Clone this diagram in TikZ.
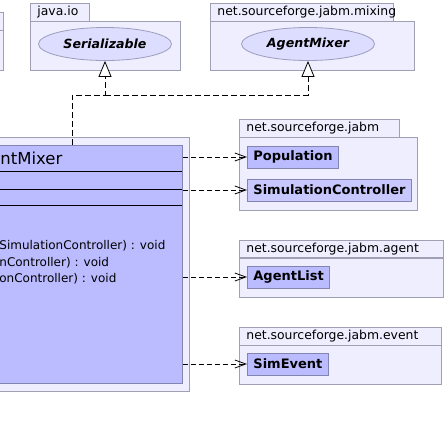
\documentclass[tikz,border=0pt]{standalone}
\usepackage{fontspec}
\setmainfont{DejaVu Sans}
\usetikzlibrary{arrows.meta,shapes.geometric}
\definecolor{pkgfill}{HTML}{EEEEFF}
\definecolor{pkgline}{HTML}{A0A0B4}
\definecolor{clsfill}{HTML}{BBBBFF}
\definecolor{clsline}{HTML}{8484B0}
\definecolor{ifcfill}{HTML}{DDDDFF}
\definecolor{ifcline}{HTML}{9C9CBC}
\definecolor{litefill}{HTML}{C8C8FF}
\begin{document}
\begin{tikzpicture}
	[x=1pt, y=-1pt, line width=0.8pt,
	tab/.style={draw=pkgline,fill=pkgfill,anchor=north west,inner xsep=7pt,inner ysep=0pt,minimum height=17.5pt,align=left,font=\fontsize{12.4}{14}\selectfont},
	body/.style={draw=pkgline,fill=pkgfill,anchor=north west,inner sep=0pt},
	iface/.style={ellipse,draw=ifcline,fill=ifcfill,inner sep=0pt,minimum width=133pt,minimum height=33pt,font=\fontsize{12.6}{15}\selectfont\bfseries\itshape},
	cls/.style={draw=clsline,fill=clsfill,anchor=west,inner xsep=6pt,inner ysep=0pt,minimum height=22pt,font=\fontsize{13}{15}\selectfont\bfseries},
	txt/.style={anchor=west,inner sep=0pt,font=\fontsize{12}{14}\selectfont},
	uses/.style={dash pattern=on 5pt off 3pt,-{Straight Barb[length=11pt,width=8pt]}},
	realizes/.style={dash pattern=on 6pt off 3pt,-{Triangle[open,fill=white,length=16pt,width=13pt]}}]
	\useasboundingbox (0, 0) rectangle (446, 429);
	\clip (0, 0) rectangle (446, 429);
	% packages along the top
	\node (lefttab) at (-30, 12) [tab, minimum width=33pt] {};
	\node (left) at (lefttab.south west) [body, minimum width=33pt, minimum height=40pt] {};
	\node (iotab) at (30, 3) [tab, text width=45pt] {java.io};
	\node (io) at (iotab.south west) [body, minimum width=150pt, minimum height=48.5pt] {};
	\node (mixingtab) at (210, 3) [tab, text width=169pt] {net.sourceforge.jabm.mixing};
	\node (mixing) at (mixingtab.south west) [body, minimum width=204pt, minimum height=48.5pt] {};
	\node (serial) at (105, 44) [iface] {Serializable};
	\node (mixif) at (308, 44) [iface] {AgentMixer};
	% packages on the right
	\node (jabmtab) at (239, 119) [tab, text width=146pt] {net.sourceforge.jabm};
	\node (jabm) at (jabmtab.south west) [body, minimum width=178pt, minimum height=73pt] {};
	\node (agenttab) at (239, 239.5) [tab, text width=190pt] {net.sourceforge.jabm.agent};
	\node (agent) at (agenttab.south west) [body, minimum width=204pt, minimum height=39pt] {};
	\node (eventtab) at (239, 327) [tab, text width=188pt] {net.sourceforge.jabm.event};
	\node (event) at (eventtab.south west) [body, minimum width=202pt, minimum height=39pt] {};
	\node (pop) at (247, 157) [cls] {Population};
	\node (simctl) at (247, 190) [cls, fill=litefill] {SimulationController};
	\node (agentlist) at (247, 277) [cls] {AgentList};
	\node (simevent) at (247, 364) [cls] {SimEvent};
	% the class itself
	\node (mixerpkg) at (-20, 137) [body, minimum width=209pt, minimum height=254pt] {};
	\node (mixer) at (-20, 145) [body, draw=clsline, fill=clsfill, minimum width=202pt, minimum height=238pt] {};
	\draw (-20, 171) -- (182, 171);
	\draw (-20, 189) -- (182, 189);
	\draw (-20, 205) -- (182, 205);
	\node (title) at (0, 158) [txt, font=\fontsize{16.5}{19}\selectfont] {ntMixer};
	\node (op1) at (-1, 246) [txt] {SimulationController) : void};
	\node (op2) at (-1, 263) [txt] {nController) : void};
	\node (op3) at (-1, 279) [txt] {onController) : void};
	% connectors
	\coordinate (split) at (72, 95);
	\coordinate (join) at (105, 95);
	\draw [realizes] (mixer.north -| split) -- (split) -| (serial.south);
	\draw [realizes] (join) -| (mixif.south);
	\draw [uses] (pop -| mixer.east) -- (pop.west);
	\draw [uses] (simctl -| mixer.east) -- (simctl.west);
	\draw [uses] (agentlist -| mixer.east) -- (agentlist.west);
	\draw [uses] (simevent -| mixer.east) -- (simevent.west);
\end{tikzpicture}
\end{document}
